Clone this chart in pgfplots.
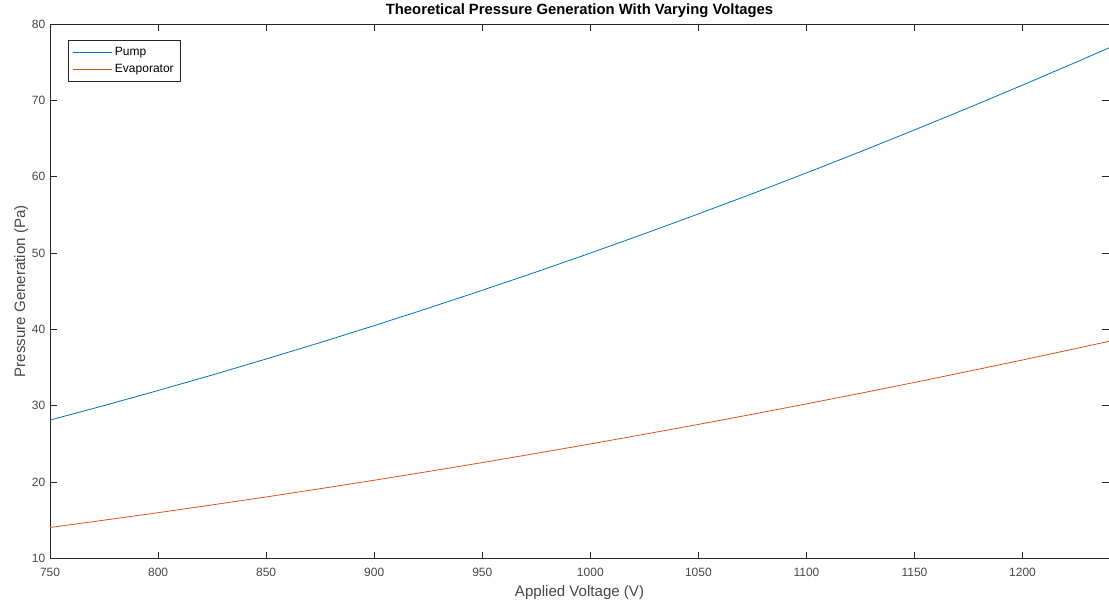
\documentclass[border=0pt]{standalone}
\usepackage{fontspec}
\setmainfont{Liberation Sans}
\usepackage{pgfplots}
\pgfplotsset{compat=1.18}
\definecolor{mblue}{HTML}{0072BD}
\definecolor{morange}{HTML}{D95319}
\definecolor{axgray}{HTML}{262626}
\begin{document}
\begin{tikzpicture}
\begin{axis}[
    scale only axis,
    width=793.5pt,
    height=400.5pt,
    xmin=750, xmax=1240,
    ymin=10, ymax=80,
    xtick={750,800,...,1200},
    ytick={10,20,...,80},
    tick align=inside,
    tick pos=both,
    major tick length=5pt,
    axis line style={axgray, line width=0.6pt},
    every tick/.style={axgray, line width=0.6pt},
    tick label style={font=\fontsize{9}{11}\selectfont, text=axgray!85},
    xticklabel style={yshift=-3.5pt},
    /pgf/number format/assume math mode=true,
    /pgf/number format/1000 sep={},
    xlabel={Applied Voltage (V)},
    ylabel={Pressure Generation (Pa)},
    label style={font=\fontsize{11.3}{13}\selectfont, text=axgray!85},
    ylabel style={yshift=-4pt},
    title={\textbf{Theoretical Pressure Generation With Varying Voltages}},
    title style={font=\fontsize{11.1}{13}\selectfont, yshift=-5pt},
    legend style={at={(0.017,0.970)}, anchor=north west, draw=axgray, line width=0.5pt,
        font=\fontsize{9}{11}\selectfont, inner sep=3pt, row sep=1pt, legend cell align=left},
    legend image code/.code={\draw[#1] (0cm,0cm) -- (1.03cm,0cm);},
]
\addplot[mblue, line width=0.6pt] coordinates {
(750,28.13) (775,30.03) (800,32.00) (825,34.03) (850,36.13) (875,38.28)
(900,40.50) (925,42.78) (950,45.13) (975,47.53) (1000,50.00) (1025,52.53)
(1050,55.13) (1075,57.78) (1100,60.50) (1125,63.28) (1150,66.13) (1175,69.03)
(1200,72.00) (1225,75.03) (1240,76.88)};
\addplot[morange, line width=0.6pt] coordinates {
(750,14.06) (775,15.02) (800,16.00) (825,17.02) (850,18.06) (875,19.14)
(900,20.25) (925,21.39) (950,22.56) (975,23.77) (1000,25.00) (1025,26.27)
(1050,27.56) (1075,28.89) (1100,30.25) (1125,31.64) (1150,33.06) (1175,34.52)
(1200,36.00) (1225,37.52) (1240,38.44)};
\legend{Pump, Evaporator}
\end{axis}
\pgfresetboundingbox
\useasboundingbox ([xshift=-37.5pt,yshift=-34.5pt]current axis.south west)
    rectangle ([yshift=18pt]current axis.north east);
\end{tikzpicture}
\end{document}
